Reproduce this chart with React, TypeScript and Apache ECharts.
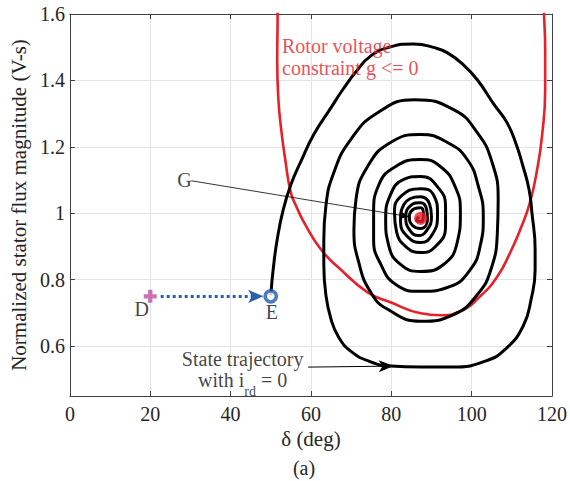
import React, { useEffect, useRef } from "react";
import * as echarts from "echarts";

const FONT = "Liberation Serif";

const xTicks = [0, 20, 40, 60, 80, 100, 120];
const yTicks = [0.6, 0.8, 1.0, 1.2, 1.4, 1.6];

// State trajectory with i_rd = 0 (delta in deg, normalized flux)
const trajectory: [number, number][] = [
  [50.0, 0.753], [50.6, 0.831], [51.6, 0.921], [53.1, 1.011], [55.0, 1.086], [57.5, 1.156],
  [60.7, 1.237], [65.0, 1.318], [67.9, 1.372], [71.2, 1.426], [74.9, 1.474], [79.8, 1.501],
  [85.5, 1.510], [91.0, 1.498], [94.0, 1.483], [97.7, 1.450], [101.4, 1.402], [105.6, 1.327],
  [108.8, 1.273], [111.1, 1.207], [112.8, 1.141], [114.3, 1.071], [115.0, 1.002], [115.8, 0.891],
  [115.8, 0.831], [114.8, 0.741], [112.8, 0.660], [108.4, 0.591], [103.4, 0.555], [95.5, 0.537],
  [87.3, 0.537], [79.8, 0.540], [74.4, 0.555], [69.9, 0.585], [66.9, 0.627], [65.0, 0.681],
  [63.7, 0.756], [63.2, 0.846], [63.2, 0.921], [63.7, 1.020], [65.7, 1.123], [69.9, 1.222],
  [76.6, 1.303], [85.8, 1.342], [95.5, 1.312], [101.4, 1.243], [105.1, 1.153], [106.6, 1.041],
  [106.4, 0.942], [104.8, 0.831], [101.4, 0.755], [95.5, 0.695], [87.3, 0.675], [79.1, 0.711],
  [74.9, 0.762], [71.9, 0.852], [70.7, 0.951], [71.2, 1.041], [74.1, 1.141], [79.8, 1.213],
  [87.3, 1.237], [94.0, 1.213], [98.9, 1.162], [101.7, 1.080], [102.9, 0.990], [102.1, 0.900],
  [99.7, 0.831], [94.7, 0.780], [87.3, 0.765], [81.1, 0.786], [77.4, 0.846], [75.6, 0.921],
  [75.6, 1.002], [76.9, 1.086], [81.1, 1.141], [87.3, 1.162], [92.2, 1.141], [95.9, 1.080],
  [97.2, 1.002], [96.4, 0.912], [93.0, 0.846], [87.3, 0.825], [82.3, 0.846], [79.3, 0.906],
  [78.6, 0.981], [79.8, 1.056], [83.1, 1.102], [87.3, 1.111], [91.5, 1.080], [93.5, 1.020],
  [93.5, 0.960], [91.0, 0.900], [87.3, 0.882], [83.6, 0.900], [81.3, 0.945], [80.8, 1.002],
  [82.3, 1.050], [87.3, 1.074], [90.5, 1.056], [91.5, 0.996], [90.2, 0.936], [87.3, 0.912],
  [84.0, 0.930], [82.3, 0.975], [83.1, 1.026], [87.3, 1.050], [89.5, 1.029], [90.0, 0.990],
  [88.8, 0.948], [86.8, 0.933], [84.5, 0.951], [83.6, 0.990], [84.8, 1.023], [87.3, 1.032],
  [88.8, 1.011], [89.0, 0.981], [87.3, 0.954], [85.3, 0.963], [84.5, 0.990], [85.8, 1.014],
  [87.3, 1.017], [88.0, 0.999], [87.5, 0.975], [86.3, 0.978], [86.8, 0.990],
];

// Rotor voltage constraint g <= 0 boundary
const constraint: [number, number][] = [
  [51.7, 1.642], [51.7, 1.600], [51.6, 1.462], [51.9, 1.342], [52.6, 1.252], [53.6, 1.162],
  [55.0, 1.062], [56.5, 1.017], [58.3, 0.972], [62.5, 0.891], [67.4, 0.831], [74.1, 0.762],
  [79.8, 0.732], [87.3, 0.699], [92.2, 0.693], [97.2, 0.705], [102.1, 0.750], [106.4, 0.810],
  [109.6, 0.882], [112.1, 0.951], [114.5, 1.032], [116.3, 1.132], [117.5, 1.231], [118.3, 1.372],
  [118.3, 1.492], [118.0, 1.600], [117.8, 1.642],
];

const pointG: [number, number][] = [[87.3, 0.985]];
const pointD: [number, number][] = [[20, 0.75]];
const pointE: [number, number][] = [[50, 0.75]];

const arrowDE: [number, number][] = [[22.6, 0.75], [48.1, 0.75]];
const arrowG: [number, number][] = [[30.2, 1.098], [84.4, 0.99]];
const arrowTraj: [number, number][] = [[59.3, 0.537], [80.6, 0.540]];

const annotationTexts = [
  "D",
  "E",
  "G",
  "{a|State trajectory}\n{a|with i}{s|rd}{a| = 0}",
  "Rotor voltage\nconstraint g <= 0",
];
const annotationAnchors: [number, number][] = [
  [17.9, 0.711],
  [50.3, 0.702],
  [28.5, 1.099],
  [43.0, 0.528],
  [52.8, 1.471],
];

export default function App() {
  const ref = useRef<HTMLDivElement>(null);

  useEffect(() => {
    document.body.style.margin = "0";
    if (!ref.current) return;
    const chart = echarts.init(ref.current, undefined, { renderer: "svg" });

    const axisColor = "#404040";
    const labelColor = "#262626";
    const gridColor = "#e4e4e4";

    const baseX = {
      type: "value" as const,
      min: xTicks[0],
      max: xTicks[xTicks.length - 1],
      interval: 20,
      axisLine: { show: true, onZero: false, lineStyle: { color: axisColor, width: 1 } },
      axisTick: { show: true, inside: true, length: 5, lineStyle: { color: axisColor } },
    };
    const baseY = {
      type: "value" as const,
      min: 0.45,
      max: 1.6,
      axisLine: { show: true, onZero: false, lineStyle: { color: axisColor, width: 1 } },
      axisTick: { show: true, inside: true, length: 5, customValues: yTicks, lineStyle: { color: axisColor } },
    };

    const annData = annotationTexts.map((t, i) => {
      const isRed = i === 4;
      return {
        value: annotationAnchors[i],
        label: {
          show: true,
          position: "inside",
          formatter: t,
          align: isRed ? "left" : "center",
          verticalAlign: "middle",
          color: isRed ? "#e8202a" : "#111",
          fontSize: 20,
          fontFamily: FONT,
          lineHeight: 22,
          rich: {
            a: { fontSize: 20, fontFamily: FONT, color: "#111", lineHeight: 21, verticalAlign: "top" },
            s: {
              fontSize: 14,
              fontFamily: FONT,
              color: "#111",
              lineHeight: 14,
              padding: [14, 0, 0, 0],
              verticalAlign: "top",
            },
          },
        },
      };
    });

    const option: any = {
      animation: false,
      textStyle: { fontFamily: FONT },
      grid: { left: 68, top: 14, right: 18, bottom: 85, containLabel: false },
      xAxis: [
        {
          ...baseX,
          position: "bottom",
          axisLabel: { margin: 8, fontSize: 20, fontFamily: FONT, color: labelColor },
          splitLine: { show: true, lineStyle: { color: gridColor, width: 1 } },
          name: "δ (deg)",
          nameLocation: "middle",
          nameGap: 30,
          nameTextStyle: { fontSize: 21, fontFamily: FONT, color: labelColor },
        },
        {
          ...baseX,
          position: "top",
          axisLabel: { show: false },
          splitLine: { show: false },
        },
      ],
      yAxis: [
        {
          ...baseY,
          position: "left",
          axisLabel: {
            margin: 5,
            fontSize: 20,
            fontFamily: FONT,
            color: labelColor,
            customValues: yTicks,
            formatter: (v: number) => String(Math.round(v * 10) / 10),
          },
          splitLine: { show: true, lineStyle: { color: gridColor, width: 1 } },
          name: "Normalized stator flux magnitude (V-s)",
          nameLocation: "middle",
          nameGap: 34,
          nameTextStyle: { fontSize: 21, fontFamily: FONT, color: labelColor },
        },
        {
          ...baseY,
          position: "right",
          axisLabel: { show: false },
          splitLine: { show: false },
        },
      ],
      series: [
        {
          name: "constraint",
          type: "line",
          data: constraint,
          smooth: 0.5,
          showSymbol: false,
          symbol: "none",
          clip: true,
          lineStyle: { color: "#e8202a", width: 2.6 },
          z: 2,
        },
        {
          name: "trajectory",
          type: "line",
          data: trajectory,
          smooth: 0.5,
          showSymbol: false,
          symbol: "none",
          clip: true,
          lineStyle: { color: "#000", width: 3 },
          z: 3,
        },
        {
          name: "G",
          type: "scatter",
          data: pointG,
          symbol: "circle",
          symbolSize: 13,
          itemStyle: { color: "#ee1c25" },
          z: 6,
        },
        {
          name: "D",
          type: "scatter",
          data: pointD,
          symbol: "path://M4,0H8V4H12V8H8V12H4V8H0V4H4Z",
          symbolSize: 13,
          itemStyle: { color: "#c14fa8" },
          z: 6,
        },
        {
          name: "E",
          type: "scatter",
          data: pointE,
          symbol: "circle",
          symbolSize: 11,
          itemStyle: { color: "#fff", borderColor: "#2357ad", borderWidth: 3.5 },
          z: 6,
        },
        {
          name: "arrowDE",
          type: "line",
          data: [],
          markLine: {
            silent: true,
            symbol: ["none", "arrow"],
            symbolSize: [10, 15],
            label: { show: false },
            lineStyle: { color: "#2c5eb0", width: 3, type: "dotted" },
            itemStyle: { color: "#2c5eb0" },
            data: [[{ coord: arrowDE[0] }, { coord: arrowDE[1] }]],
          },
          z: 5,
        },
        {
          name: "arrowG",
          type: "line",
          data: [],
          markLine: {
            silent: true,
            symbol: ["none", "arrow"],
            symbolSize: [6, 9],
            label: { show: false },
            lineStyle: { color: "#000", width: 0.8, type: "solid" },
            data: [[{ coord: arrowG[0] }, { coord: arrowG[1] }]],
          },
          z: 5,
        },
        {
          name: "arrowTraj",
          type: "line",
          data: [],
          markLine: {
            silent: true,
            symbol: ["none", "arrow"],
            symbolSize: [9, 15],
            label: { show: false },
            lineStyle: { color: "#000", width: 1, type: "solid" },
            data: [[{ coord: arrowTraj[0] }, { coord: arrowTraj[1] }]],
          },
          z: 5,
        },
        {
          name: "annotations",
          type: "scatter",
          data: annData,
          symbolSize: 1,
          itemStyle: { color: "rgba(0,0,0,0)" },
          z: 7,
        },
      ],
      graphic: [
        {
          type: "text",
          x: 304,
          y: 468,
          style: {
            text: "(a)",
            fontSize: 20,
            fontFamily: FONT,
            fill: "#262626",
            align: "center",
            verticalAlign: "middle",
          },
        },
      ],
    };

    chart.setOption(option);
    return () => chart.dispose();
  }, []);

  return <div ref={ref} style={{ width: 570, height: 481 }} />;
}
